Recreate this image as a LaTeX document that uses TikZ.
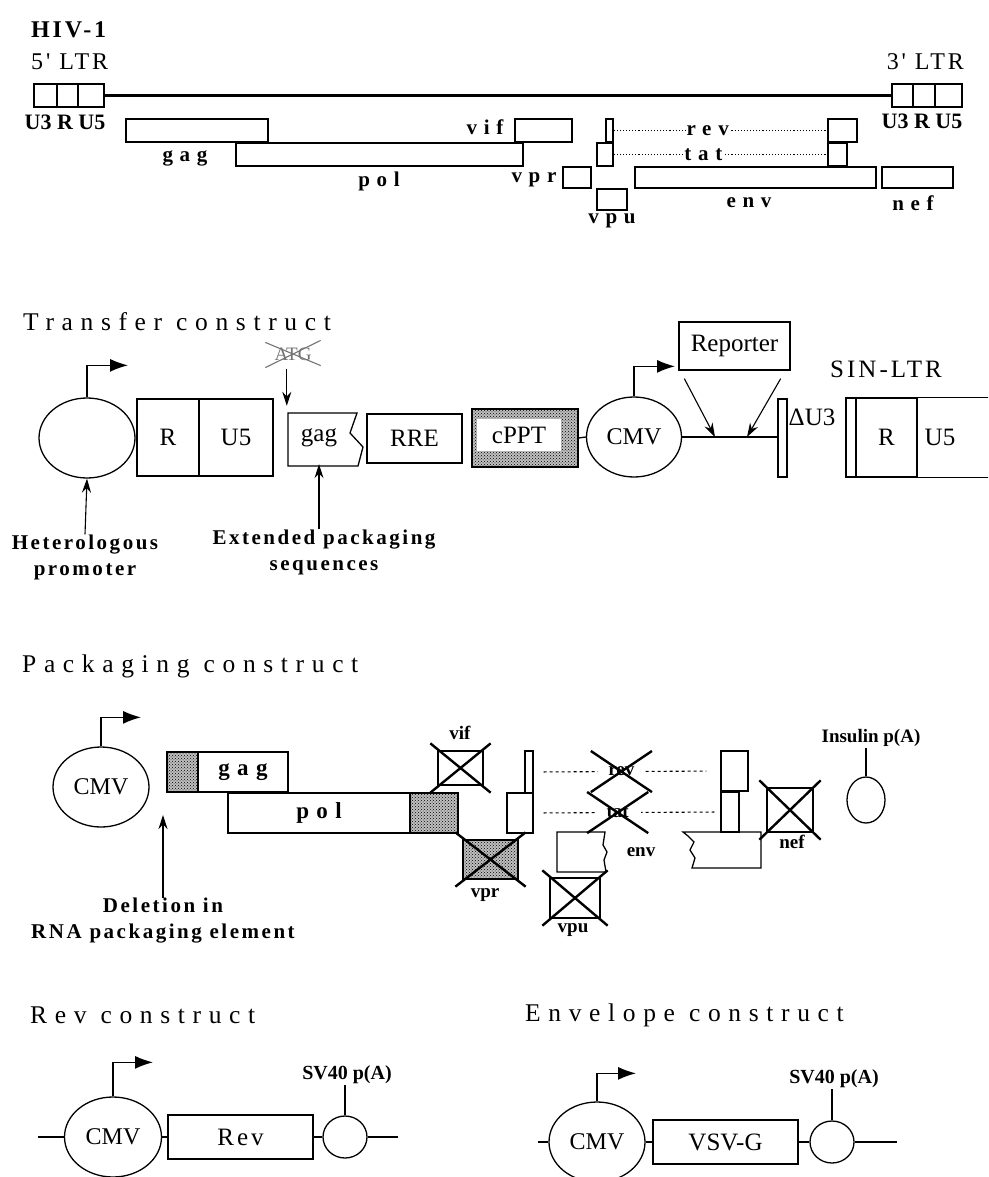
\documentclass[tikz,border=0pt]{standalone}
\usepackage{fontspec}
\setmainfont{Liberation Serif}
\newfontfamily\titlefont[LetterSpace=30]{Liberation Serif}
\newfontfamily\genefont[LetterSpace=32]{Liberation Serif}
\newfontfamily\notefont[LetterSpace=12]{Liberation Serif}
\usetikzlibrary{shapes.geometric, arrows.meta, patterns}

\tikzset{
  gene/.style={draw, rectangle, inner sep=0pt, line width=1.3pt, font=\fontsize{25}{28}\selectfont},
  hatched/.style={gene, preaction={fill=black!25}, pattern=crosshatch dots},
  prom/.style={draw, ellipse, inner sep=0pt, line width=1.3pt, minimum width=96pt, minimum height=80pt, font=\fontsize{24}{28}\selectfont},
  polya/.style={draw, ellipse, inner sep=0pt, line width=1.3pt, minimum width=44pt, minimum height=42pt},
  start/.style={-{Latex[length=18pt,width=13pt]}, line width=1.3pt},
  pointer/.style={-{Stealth[length=14pt,width=9pt]}, line width=1.1pt},
  title/.style={anchor=west, inner sep=0pt, font=\titlefont\fontsize{25.5}{28}\selectfont},
  genelbl/.style={inner sep=1pt, font=\genefont\bfseries\fontsize{21}{24}\selectfont},
  smalllbl/.style={inner sep=1pt, font=\bfseries\fontsize{19}{22}\selectfont},
  note/.style={align=center, inner sep=0pt, font=\notefont\bfseries\fontsize{21}{26}\selectfont}
}
\newcommand{\knockout}[1]{\draw[line width=2.4pt] ([shift={(-7,-7)}]#1.north west) -- ([shift={(7,7)}]#1.south east) ([shift={(7,-7)}]#1.north east) -- ([shift={(-7,7)}]#1.south west);}

\begin{document}
\begin{tikzpicture}[x=1pt, y=-1pt]
\useasboundingbox (0,0) rectangle (988,1177);
\clip (0,0) rectangle (988,1177);

% HIV-1 genome
\node[anchor=west, inner sep=0pt, font=\notefont\bfseries\fontsize{24}{26}\selectfont] (hiv) at (31,30) {HIV-1};
\node[anchor=west, inner sep=0pt, font=\notefont\fontsize{24}{26}\selectfont] (ltr5) at (31,62) {5' LTR};
\node[anchor=east, inner sep=0pt, font=\notefont\fontsize{24}{26}\selectfont] (ltr3) at (964,62) {3' LTR};

% LTRs
\node[gene, minimum width=23pt, minimum height=23pt] (u3a) at (45.5,95.5) {};
\node[gene, minimum width=21pt, minimum height=23pt] (ra) at (67.5,95.5) {};
\node[gene, minimum width=26pt, minimum height=23pt] (u5a) at (91,95.5) {};
\node[gene, minimum width=21pt, minimum height=23pt] (u3b) at (902.5,95.5) {};
\node[gene, minimum width=22pt, minimum height=23pt] (rb) at (924,95.5) {};
\node[gene, minimum width=27pt, minimum height=23pt] (u5b) at (948.5,95.5) {};
\draw[line width=2.8pt] (u5a.east) -- (u3b.west);
\node[inner sep=0pt, font=\bfseries\fontsize{22}{24}\selectfont] (ltrlblA) at (65,122) {U3 R U5};
\node[inner sep=0pt, font=\bfseries\fontsize{22}{24}\selectfont] (ltrlblB) at (922,121) {U3 R U5};

% genes
\node[gene, minimum width=142pt, minimum height=23pt] (gag) at (197,130.5) {};
\node[gene, minimum width=287pt, minimum height=23pt] (pol) at (379.5,154.5) {};
\node[gene, minimum width=57pt, minimum height=23pt] (vif) at (543.5,130.5) {};
\node[gene, minimum width=7pt, minimum height=23pt] (revA) at (609.5,130.5) {};
\node[gene, minimum width=16pt, minimum height=23pt] (tatA) at (605,154.5) {};
\node[gene, minimum width=29pt, minimum height=23pt] (revB) at (842.5,130.5) {};
\node[gene, minimum width=19pt, minimum height=23pt] (tatB) at (837.5,154.5) {};
\node[gene, minimum width=28pt, minimum height=21pt] (vpr) at (577,177.5) {};
\node[gene, minimum width=30pt, minimum height=21pt] (vpu) at (612,199.5) {};
\node[gene, minimum width=241pt, minimum height=21pt] (env) at (755.5,177.5) {};
\node[gene, minimum width=71pt, minimum height=21pt] (nef) at (917.5,177.5) {};
\draw[dotted, line width=1.1pt] (revA.east) -- node[pos=0.44, fill=white, genelbl] (revlbl) {rev} (revB.west);
\draw[dotted, line width=1.1pt] (tatA.east) -- node[pos=0.42, fill=white, genelbl] (tatlbl) {tat} (tatB.west);
\node[genelbl] (gaglbl) at (185,158) {gag};
\node[genelbl] (pollbl) at (379,181) {pol};
\node[genelbl] (viflbl) at (485,127) {vif};
\node[genelbl] (vprlbl) at (534,180) {vpr};
\node[genelbl] (vpulbl) at (612,221) {vpu};
\node[genelbl] (envlbl) at (749,203) {env};
\node[genelbl] (neflbl) at (913,203) {nef};

% Transfer construct
\node[title] (ttransfer) at (23,322) {Transfer construct};
\node[prom] (hetero) at (87,438) {};
\draw[start] (hetero.north) -- ++(0,-32) -- ++(41,0);
\node[gene, minimum width=62pt, minimum height=77pt] (tR) at (168,437.5) {R};
\node[gene, minimum width=74pt, minimum height=77pt] (tU5) at (236,437.5) {U5};
\node[inner sep=0pt, minimum width=64pt, minimum height=53pt, font=\fontsize{25}{28}\selectfont] (tgag) at (319,437.5) {gag};
\draw[line width=1.3pt] (288,413) -- (357,413) -- (350,433) -- (363,447) -- (358,466) -- (288,466) -- cycle;
\node[inner sep=0pt, text=black!55, font=\fontsize{19}{20}\selectfont] (atg) at (293,354) {ATG};
\draw[black!55, line width=1.1pt] ([shift={(-9,-5)}]atg.north west) -- ([shift={(9,5)}]atg.south east) ([shift={(9,-7)}]atg.north east) -- ([shift={(-9,7)}]atg.south west);
\draw[pointer, shorten <=8pt, shorten >=5pt] (atg.south -| tgag.north west) -- (tgag.north west);
\node[gene, minimum width=95pt, minimum height=49pt] (tRRE) at (414.5,438.5) {RRE};
\node[hatched, minimum width=106pt, minimum height=58pt] (tcppt) at (525,438) {};
\node[fill=white, inner sep=0pt, minimum width=84pt, minimum height=32pt, font=\fontsize{25}{28}\selectfont] (tcpptlbl) at (519,435) {cPPT};
\node[prom, minimum width=95pt] (tCMV) at (634,437) {CMV};
\draw[line width=1.3pt] (tcppt.east) -- (tCMV.west);
\draw[start] (tCMV.north) -- ++(0,-30) -- ++(41,0);
\node[gene, minimum width=111pt, minimum height=48pt] (trep) at (734.5,346) {Reporter};
\node[gene, minimum width=9pt, minimum height=78pt] (tdU3) at (782.5,438) {};
\draw[line width=1.3pt] (tCMV.east) -- (tCMV.east -| tdU3.west);
\coordinate (insL) at (715,437);
\coordinate (insR) at (747,437);
\draw[pointer] ([shift={(6,8)}]trep.south west) -- (insL);
\draw[pointer] ([shift={(-10,8)}]trep.south east) -- (insR);
\node[inner sep=0pt, font=\fontsize{25}{28}\selectfont] (tdU3lbl) at (812,417) {ΔU3};
\node[inner sep=0pt, font=\notefont\fontsize{25}{28}\selectfont] (tsin) at (886,369) {SIN-LTR};
\node[gene, minimum width=10pt, minimum height=79pt] (sU3) at (851,437.5) {};
\node[gene, minimum width=61pt, minimum height=79pt] (sR) at (886.5,437.5) {R};
\node[inner sep=0pt, font=\fontsize{25}{28}\selectfont] (sU5) at (940,437.5) {U5};
\draw[line width=1.3pt] (sR.north east) -- ++(75,0) (sR.south east) -- ++(75,0);
\node[note] (thet) at (85,557) {Heterologous\\promoter};
\draw[pointer] (thet.north) -- (hetero.south);
\node[note] (text) at (324,552) {Extended packaging\\sequences};
\draw[pointer] (tgag.south |- text.north) -- (tgag.south);

% Packaging construct
\node[title] (tpack) at (22,666) {Packaging construct};
\node[prom] (pCMV) at (101,787) {CMV};
\draw[start] (pCMV.north) -- ++(0,-29) -- ++(40,0);
\node[hatched, minimum width=31pt, minimum height=40pt] (pgagh) at (182.5,772) {};
\node[gene, minimum width=90pt, minimum height=40pt, font=\genefont\bfseries\fontsize{23}{26}\selectfont] (pgag) at (243,772) {gag};
\node[gene, minimum width=182pt, minimum height=40pt, font=\genefont\bfseries\fontsize{23}{26}\selectfont] (ppol) at (319,813) {pol};
\node[hatched, minimum width=48pt, minimum height=40pt] (ppolh) at (434,813) {};
\coordinate (pdel) at (163,815);
\node[note] (pdellbl) at (163,921) {Deletion in\\RNA packaging element};
\draw[pointer] (pdellbl.north) -- (pdel);
\node[smalllbl] (pviflbl) at (460,733) {vif};
\node[gene, minimum width=45pt, minimum height=34pt] (pvif) at (460.5,768) {};
\knockout{pvif}
\node[gene, minimum width=8pt, minimum height=42pt] (prev) at (529,772) {};
\node[gene, minimum width=26pt, minimum height=40pt] (ptat) at (520,813) {};
\node[hatched, minimum width=55pt, minimum height=39pt] (pvpr) at (490.5,859.5) {};
\knockout{pvpr}
\node[smalllbl] (pvprlbl) at (485,895) {vpr};
\node[gene, minimum width=27pt, minimum height=40pt] (prevb) at (734.5,771) {};
\node[gene, minimum width=18pt, minimum height=40pt] (ptatb) at (730,812) {};
\draw[dashed, line width=1.1pt, shorten <=10pt, shorten >=14pt] (prev.east) -- node[pos=0.47, fill=white, smalllbl, minimum width=46pt, minimum height=26pt] (prevx) {rev} (prevb.west);
\knockout{prevx}
\draw[dashed, line width=1.1pt, shorten <=10pt, shorten >=6pt] (ptat.east) -- node[pos=0.45, fill=white, smalllbl, minimum width=46pt, minimum height=26pt] (ptatx) {tat} (ptatb.west);
\knockout{ptatx}
\draw[line width=1.3pt] (557,832) -- (605,832) -- (603,845) -- (607,852) -- (604,860) -- (606,872) -- (557,872) -- cycle;
\draw[line width=1.3pt] (683,832) -- (761,832) -- (761,868) -- (692,868) -- (695,858) -- (690,850) -- (694,842) -- (688,836) -- cycle;
\node[smalllbl] (penv) at (641,852) {env};
\node[gene, minimum width=50pt, minimum height=40pt] (pvpu) at (575,898) {};
\knockout{pvpu}
\node[smalllbl] (pvpulbl) at (573,930) {vpu};
\node[gene, minimum width=46pt, minimum height=44pt] (pnef) at (790,810) {};
\knockout{pnef}
\node[smalllbl] (pneflbl) at (792,842) {nef};
\node[smalllbl] (pins) at (871,738) {Insulin p(A)};
\node[polya, minimum width=38pt, minimum height=46pt] (ppa) at (866,800) {};
\draw[line width=1.3pt] (ppa.north) -- (ppa.north |- pins.south);

% Rev construct
\node[title] (trev) at (30,1015) {Rev construct};
\node[prom, minimum width=97pt] (rCMV) at (113,1137) {CMV};
\draw[start] (rCMV.north) -- ++(0,-34) -- ++(40,0);
\coordinate (rin) at (38,1137);
\node[gene, minimum width=145pt, minimum height=44pt, font=\notefont\fontsize{25}{28}\selectfont] (rRev) at (240.5,1137) {Rev};
\node[polya] (rpa) at (345,1137) {};
\coordinate (rout) at (398,1137);
\draw[line width=1.3pt] (rin) -- (rCMV.west) (rCMV.east) -- (rRev.west) (rRev.east) -- (rpa.west) (rpa.east) -- (rout);
\node[smalllbl, font=\bfseries\fontsize{20}{22}\selectfont] (rsv) at (347,1075) {SV40 p(A)};
\draw[line width=1.3pt] (rpa.north) -- (rpa.north |- rsv.south);

% Envelope construct
\node[title] (tenv) at (525,1015) {Envelope construct};
\node[prom] (eCMV) at (597,1142) {CMV};
\draw[start] (eCMV.north) -- ++(0,-28) -- ++(39,0);
\coordinate (ein) at (538,1142);
\node[gene, minimum width=145pt, minimum height=44pt] (eVSV) at (725.5,1142) {VSV-G};
\node[polya] (epa) at (832,1142) {};
\coordinate (eout) at (897,1142);
\draw[line width=1.3pt] (ein) -- (eCMV.west) (eCMV.east) -- (eVSV.west) (eVSV.east) -- (epa.west) (epa.east) -- (eout);
\node[smalllbl, font=\bfseries\fontsize{20}{22}\selectfont] (esv) at (834,1079) {SV40 p(A)};
\draw[line width=1.3pt] (epa.north) -- (epa.north |- esv.south);
\end{tikzpicture}
\end{document}
